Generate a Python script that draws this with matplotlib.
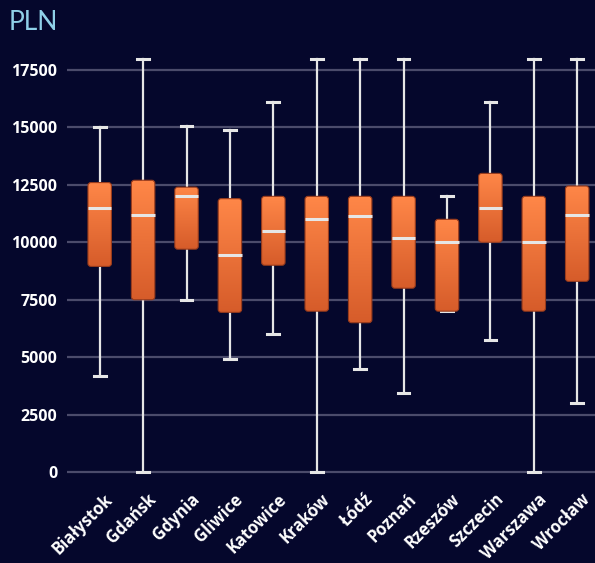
import matplotlib
matplotlib.use("Agg")
import matplotlib.pyplot as plt
import numpy as np
from matplotlib.patches import FancyBboxPatch

# === Data (PLN salary distribution per city)
cities = ["Białystok", "Gdańsk", "Gdynia", "Gliwice", "Katowice", "Kraków",
          "Łódź", "Poznań", "Rzeszów", "Szczecin", "Warszawa", "Wrocław"]
low = [4200, 0, 7500, 4900, 6000, 0, 4500, 3450, 7000, 5750, 0, 3000]
q1 = [8950, 7500, 9700, 6950, 9000, 7000, 6500, 8000, 7000, 10000, 7000, 8300]
median = [11500, 11200, 12000, 9450, 10500, 11000, 11150, 10200, 10000, 11500, 10000, 11200]
q3 = [12600, 12700, 12400, 11900, 12000, 12000, 12000, 12000, 11000, 13000, 12000, 12450]
high = [15000, 18000, 15050, 14900, 16100, 18000, 18000, 18000, 12000, 16100, 18000, 18000]
yticks = [0, 2500, 5000, 7500, 10000, 12500, 15000, 17500]

BG = "#05072c"
GRID = "#4b4b6b"
WHITE = "#e6e6e6"

plt.rcParams["font.family"] = ["Open Sans", "DejaVu Sans"]

fig = plt.figure(figsize=(5.95, 5.63), dpi=100, facecolor=BG)
ax = fig.add_axes([67 / 595, 1 - 482 / 563, 1 - 67 / 595, 432 / 563])
ax.set_facecolor(BG)

stats = []
for i, name in enumerate(cities):
    stats.append(dict(label=name, whislo=low[i], q1=q1[i], med=median[i],
                      q3=q3[i], whishi=high[i], fliers=[]))

positions = np.arange(len(cities))
bp = ax.bxp(stats, positions=positions, widths=0.54, capwidths=0.27,
            patch_artist=True, showfliers=False,
            boxprops=dict(facecolor="none", edgecolor="none"),
            whiskerprops=dict(color=WHITE, linewidth=1.6),
            capprops=dict(color=WHITE, linewidth=2.2),
            medianprops=dict(color=WHITE, linewidth=2.2, zorder=6))

ax.set_xlim(-0.753, 11.41)
ax.set_ylim(-435, 18371)

# gradient-filled rounded boxes drawn from the box extents
grad = np.linspace(0, 1, 256).reshape(-1, 1)
cmap = matplotlib.colors.LinearSegmentedColormap.from_list(
    "orange", ["#d65c2a", "#ff8748"])
for box in bp["boxes"]:
    verts = box.get_path().vertices
    x0, x1 = verts[:, 0].min(), verts[:, 0].max()
    y0, y1 = verts[:, 1].min(), verts[:, 1].max()
    rounded = FancyBboxPatch((x0, y0), x1 - x0, y1 - y0,
                             boxstyle="round,pad=0,rounding_size=0.07",
                             mutation_aspect=1890, facecolor="none",
                             edgecolor="#9a3c1c", linewidth=0.8, zorder=5)
    ax.add_patch(rounded)
    im = ax.imshow(grad, extent=(x0, x1, y0, y1), origin="lower", cmap=cmap,
                   aspect="auto", zorder=4)
    im.set_clip_path(rounded)

ax.set_xlim(-0.753, 11.41)
ax.set_ylim(-435, 18371)

ax.set_yticks(yticks)
ax.set_yticklabels([str(v) for v in yticks])
ax.set_xticks(positions)
ax.set_xticklabels(cities, rotation=45, ha="right", rotation_mode="anchor")
ax.tick_params(axis="y", length=0, labelsize=11.5, pad=7)
ax.tick_params(axis="x", length=0, labelsize=12, pad=6)
for lbl in ax.get_xticklabels() + ax.get_yticklabels():
    lbl.set_fontweight("bold")
    lbl.set_color("white")
shift = matplotlib.transforms.ScaledTranslation(0.04, 0, fig.dpi_scale_trans)
for lbl in ax.get_xticklabels():
    lbl.set_transform(lbl.get_transform() + shift)

ax.grid(axis="y", color=GRID, linewidth=1.6)
ax.set_axisbelow(True)
for s in ax.spines.values():
    s.set_visible(False)

fig.text(0.015, 0.982, "PLN", color="#8fd0e8", fontsize=19,
         family=["Lato", "DejaVu Sans"], ha="left", va="top")

fig.savefig("out.png", dpi=100, facecolor=BG)
